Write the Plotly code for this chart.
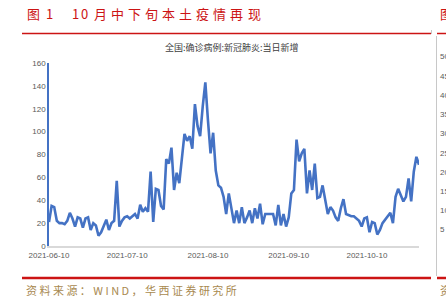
import plotly.graph_objects as go
import pandas as pd

# ---- data ----
start_date = "2021-06-10"
daily_new_cases = [
    21, 35, 34, 22, 20, 20, 19, 22, 29, 24,
    17, 25, 24, 16, 24, 25, 14, 20, 18, 9,
    12, 17, 23, 14, 20, 22, 57, 17, 22, 25,
    26, 24, 26, 28, 24, 36, 30, 33, 30, 65,
    21, 50, 49, 35, 32, 76, 72, 86, 49, 64,
    55, 75, 98, 92, 96, 85, 124, 105, 96, 122,
    143, 110, 81, 99, 66, 53, 51, 43, 28, 46,
    33, 20, 31, 20,
    34, 20, 25, 31, 20, 33,
    24, 37, 19, 28, 28, 28, 28, 18, 36, 18,
    28, 17, 25, 46, 49, 93, 74, 81, 85, 46,
    66, 49, 72, 42, 43, 53, 39, 28, 34, 31,
    25, 22, 33, 41, 28, 27, 26, 26, 24, 22,
    17, 24, 25, 12, 21, 20, 10, 14, 20, 23,
    25, 29, 20, 43, 50, 44, 39, 43, 59, 39,
    65, 78, 71,
]
dates = [d.strftime("%Y-%m-%d") for d in pd.date_range(start_date, periods=len(daily_new_cases))]
x_tick_labels = ["2021-06-10", "2021-07-10", "2021-08-10", "2021-09-10", "2021-10-10"]
y_ticks = [0, 20, 40, 60, 80, 100, 120, 140, 160]
right_chart_ticks = ["50", "45", "40", "35", "30", "25", "20", "15", "10", "5"]

fig_label = "图"
fig_number = "1"
page_title = "10月中下旬本土疫情再现"
chart_title = "全国:确诊病例:新冠肺炎:当日新增"
source_text = "资 料 来 源 ： W I N D ， 华 西 证 券 研 究 所"

# ---- layout geometry (pixels) ----
W, H = 446, 298
L, R, T, B = 49, 419, 63, 246

def px(x):
    return (x - L) / (R - L)

def py(y):
    return (B - y) / (B - T)

RED = "#CC1414"
GOLD = "#A8894F"
BLUE = "#4472C4"
GREY = "#595959"
CJK = "Noto Sans CJK SC"

fig = go.Figure(go.Scatter(
    x=dates, y=daily_new_cases, mode="lines",
    line=dict(color=BLUE, width=2.6), hoverinfo="skip",
))

fig.update_layout(
    width=W, height=H,
    margin=dict(l=L, r=W - R, t=T, b=H - B),
    paper_bgcolor="white", plot_bgcolor="white",
    showlegend=False,
)
fig.update_xaxes(
    type="date", range=[dates[0], dates[-1]],
    tickvals=x_tick_labels, ticktext=x_tick_labels,
    showgrid=False, zeroline=False, showline=True,
    linecolor="#D9D9D9", linewidth=2, ticks="",
    tickfont=dict(family="Liberation Sans", size=8, color=GREY),
)
fig.update_yaxes(
    range=[0, 160], tickvals=y_ticks,
    showgrid=False, zeroline=False, showline=True,
    linecolor=BLUE, linewidth=1.5, ticks="",
    tickfont=dict(family="Liberation Sans", size=8, color=GREY),
)

ann = []
# page title: characters laid out with wide letter spacing like the report
ann.append(dict(text=fig_label, x=px(24.5), y=py(14), xanchor="left", yanchor="middle",
                font=dict(family=CJK, size=13, color=RED)))
ann.append(dict(text=fig_number, x=px(44), y=py(14), xanchor="left", yanchor="middle",
                font=dict(family=CJK, size=13, color=RED)))
title_x = [70, 78.5, 92, 109, 126, 143, 160, 177, 194, 211, 228, 245.5]
for ch, xx in zip(page_title, title_x):
    ann.append(dict(text=ch, x=px(xx), y=py(14), xanchor="left", yanchor="middle",
                    font=dict(family=CJK, size=13, color=RED)))
ann.append(dict(text="图", x=px(438), y=py(14), xanchor="left", yanchor="middle",
                font=dict(family=CJK, size=13, color=RED)))
ann.append(dict(text=chart_title, x=px(232), y=py(48), xanchor="center", yanchor="middle",
                font=dict(family=CJK, size=9, color="#404040")))
ann.append(dict(text=source_text, x=px(24), y=py(290), xanchor="left", yanchor="middle",
                font=dict(family=CJK, size=11, color=GOLD)))
ann.append(dict(text="资", x=px(438), y=py(290), xanchor="left", yanchor="middle",
                font=dict(family=CJK, size=11, color=GOLD)))
for i, t in enumerate(right_chart_ticks):
    ann.append(dict(text=t, x=px(437.5), y=py(57 + i * 19.2), xanchor="left", yanchor="middle",
                    font=dict(family="Liberation Sans", size=8, color=GREY)))
for a in ann:
    a.update(xref="paper", yref="paper", showarrow=False)
fig.update_layout(annotations=ann)

shapes = [
    dict(x0=px(22), x1=px(431), y0=py(33.5), y1=py(33.5), line=dict(color=RED, width=1.5)),
    dict(x0=px(437), x1=px(447), y0=py(33.5), y1=py(33.5), line=dict(color=RED, width=1.5)),
    dict(x0=px(22), x1=px(431), y0=py(278), y1=py(278), line=dict(color=RED, width=2.5)),
    dict(x0=px(437), x1=px(447), y0=py(278), y1=py(278), line=dict(color=RED, width=2.5)),
    dict(x0=px(436.5), x1=px(436.5), y0=py(36), y1=py(276), line=dict(color="#C8C8C8", width=1)),
    dict(x0=px(431.5), x1=px(431.5), y0=py(30), y1=py(34), line=dict(color="#C8C8C8", width=1)),
]
for s in shapes:
    s.update(type="line", xref="paper", yref="paper", layer="above")
fig.update_layout(shapes=shapes)

fig.write_html("out.html", config={"displayModeBar": False})
